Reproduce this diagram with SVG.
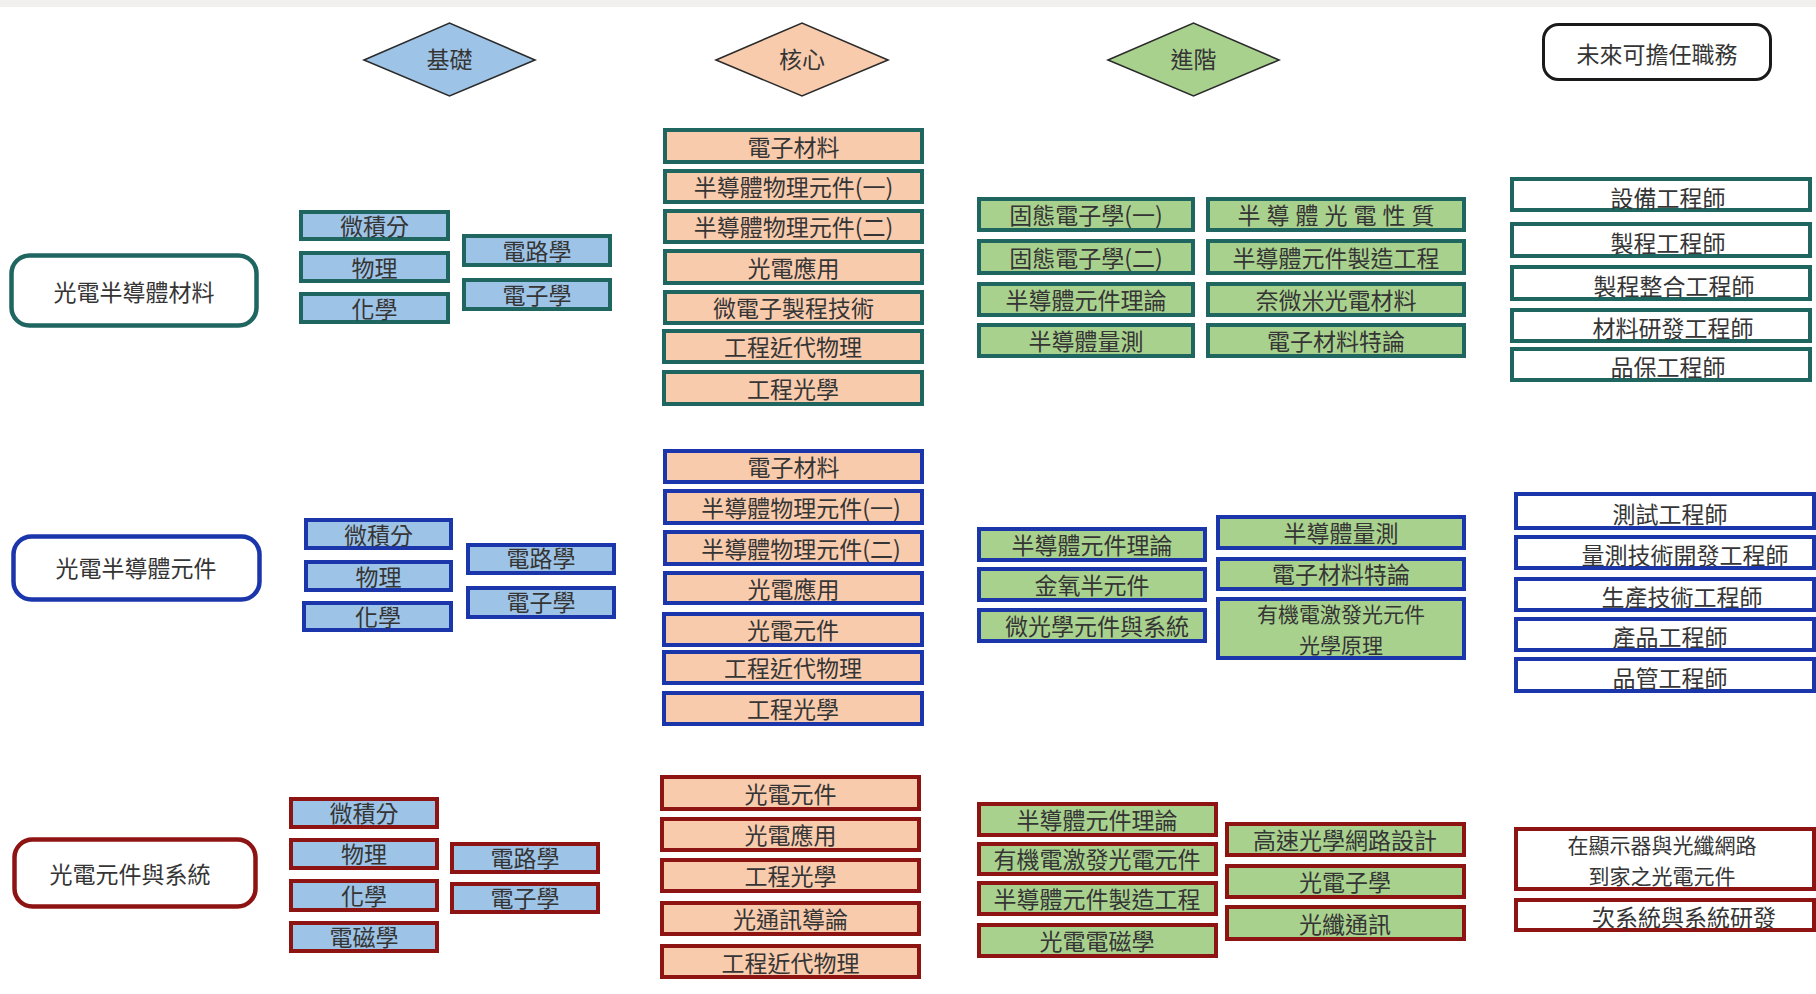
<svg xmlns="http://www.w3.org/2000/svg" width="1816" height="994" viewBox="0 0 1816 994">
<style>
.t{font-family:"Noto Sans CJK TC","Noto Sans CJK SC",sans-serif;font-size:23px;fill:#353535;text-anchor:middle}
.t2{font-size:21px}
.b{stroke-width:4}
.teal{stroke:#1f6560}
.blue{stroke:#1b36ab}
.red{stroke:#8e1414}
.fb{fill:#9dc3e6}
.fp{fill:#f8cbad}
.fg{fill:#a9d18e}
.fw{fill:#ffffff}
.dia{stroke:#2b2b2b;stroke-width:1.6}
.main{stroke-width:4.5;fill:#ffffff}
</style>
<rect x="0" y="0" width="1816" height="994" fill="#ffffff"/>
<rect x="0" y="0" width="1816" height="7" fill="#f2efef"/>

<g id="header">
  <g id="h-basic"><polygon class="dia fb" points="364,60 449.5,23 535,60 449.5,96"/><text class="t" x="449.5" y="68">基礎</text></g>
  <g id="h-core"><polygon class="dia fp" points="716,60 802,23 888,60 802,96"/><text class="t" x="802" y="68">核心</text></g>
  <g id="h-adv"><polygon class="dia fg" points="1108,60 1193.5,23 1279,60 1193.5,96"/><text class="t" x="1193.5" y="68">進階</text></g>
  <g id="h-jobs"><rect x="1543.5" y="24.5" width="227" height="55" rx="15" fill="#fff" stroke="#1a1a1a" stroke-width="3"/><text class="t" x="1657" y="63">未來可擔任職務</text></g>
</g>

<!-- Section 1: teal -->
<g id="s1-main"><rect class="main teal" x="11.5" y="255.5" width="245" height="70" rx="18"/><text class="t" x="134" y="301">光電半導體材料</text></g>
<g id="s1-basic">
  <g id="s1-b1"><rect class="b teal fb" x="301" y="212" width="147" height="27"/><text class="t" x="374.5" y="235">微積分</text></g>
  <g id="s1-b2"><rect class="b teal fb" x="301" y="253" width="147" height="28"/><text class="t" x="374.5" y="277">物理</text></g>
  <g id="s1-b3"><rect class="b teal fb" x="301" y="294" width="147" height="28"/><text class="t" x="374.5" y="318">化學</text></g>
  <g id="s1-b4"><rect class="b teal fb" x="464" y="236" width="146" height="29"/><text class="t" x="537" y="260">電路學</text></g>
  <g id="s1-b5"><rect class="b teal fb" x="464" y="280" width="146" height="29"/><text class="t" x="537" y="304">電子學</text></g>
</g>
<g id="s1-core">
  <g id="s1-c1"><rect class="b teal fp" x="665" y="130" width="257" height="32"/><text class="t" x="793.5" y="156">電子材料</text></g>
  <g id="s1-c2"><rect class="b teal fp" x="665" y="171" width="257" height="31"/><text class="t" x="793.5" y="196">半導體物理元件(一)</text></g>
  <g id="s1-c3"><rect class="b teal fp" x="665" y="211" width="257" height="31"/><text class="t" x="793.5" y="236">半導體物理元件(二)</text></g>
  <g id="s1-c4"><rect class="b teal fp" x="665" y="251" width="257" height="32"/><text class="t" x="793.5" y="277">光電應用</text></g>
  <g id="s1-c5"><rect class="b teal fp" x="665" y="292" width="257" height="31"/><text class="t" x="793.5" y="317">微電子製程技術</text></g>
  <g id="s1-c6"><rect class="b teal fp" x="664" y="331" width="258" height="31"/><text class="t" x="793" y="356">工程近代物理</text></g>
  <g id="s1-c7"><rect class="b teal fp" x="664" y="372" width="258" height="32"/><text class="t" x="793" y="398">工程光學</text></g>
</g>
<g id="s1-adv">
  <g id="s1-a1"><rect class="b teal fg" x="979" y="199" width="214" height="31"/><text class="t" x="1086" y="224">固態電子學(一)</text></g>
  <g id="s1-a2"><rect class="b teal fg" x="979" y="241" width="214" height="32"/><text class="t" x="1086" y="267">固態電子學(二)</text></g>
  <g id="s1-a3"><rect class="b teal fg" x="979" y="284" width="214" height="31"/><text class="t" x="1086" y="309">半導體元件理論</text></g>
  <g id="s1-a4"><rect class="b teal fg" x="979" y="325" width="214" height="31"/><text class="t" x="1086" y="350">半導體量測</text></g>
  <g id="s1-a5"><rect class="b teal fg" x="1208" y="199" width="256" height="31"/><text class="t" x="1339" y="224" letter-spacing="6">半導體光電性質</text></g>
  <g id="s1-a6"><rect class="b teal fg" x="1208" y="241" width="256" height="32"/><text class="t" x="1336" y="267">半導體元件製造工程</text></g>
  <g id="s1-a7"><rect class="b teal fg" x="1208" y="284" width="256" height="31"/><text class="t" x="1336" y="309">奈微米光電材料</text></g>
  <g id="s1-a8"><rect class="b teal fg" x="1208" y="325" width="256" height="31"/><text class="t" x="1336" y="350">電子材料特論</text></g>
</g>
<g id="s1-jobs">
  <g id="s1-j1"><rect class="b teal fw" x="1512" y="179" width="298" height="31"/><text class="t" x="1668" y="207">設備工程師</text></g>
  <g id="s1-j2"><rect class="b teal fw" x="1512" y="224" width="298" height="32"/><text class="t" x="1668" y="252">製程工程師</text></g>
  <g id="s1-j3"><rect class="b teal fw" x="1512" y="267" width="298" height="32"/><text class="t" x="1674" y="295">製程整合工程師</text></g>
  <g id="s1-j4"><rect class="b teal fw" x="1512" y="310" width="298" height="31"/><text class="t" x="1673" y="337">材料研發工程師</text></g>
  <g id="s1-j5"><rect class="b teal fw" x="1512" y="349" width="298" height="31"/><text class="t" x="1668" y="376">品保工程師</text></g>
</g>

<!-- Section 2: blue -->
<g id="s2-main"><rect class="main blue" x="13.5" y="536.5" width="246" height="63" rx="18"/><text class="t" x="136" y="577">光電半導體元件</text></g>
<g id="s2-basic">
  <g id="s2-b1"><rect class="b blue fb" x="306" y="520" width="145" height="28"/><text class="t" x="378.5" y="544">微積分</text></g>
  <g id="s2-b2"><rect class="b blue fb" x="306" y="562" width="145" height="28"/><text class="t" x="378.5" y="586">物理</text></g>
  <g id="s2-b3"><rect class="b blue fb" x="304" y="603" width="147" height="27"/><text class="t" x="378" y="626">化學</text></g>
  <g id="s2-b4"><rect class="b blue fb" x="468" y="545" width="146" height="28"/><text class="t" x="541" y="567">電路學</text></g>
  <g id="s2-b5"><rect class="b blue fb" x="468" y="588" width="146" height="29"/><text class="t" x="541" y="611">電子學</text></g>
</g>
<g id="s2-core">
  <g id="s2-c1"><rect class="b blue fp" x="665" y="451" width="257" height="31"/><text class="t" x="793.5" y="476">電子材料</text></g>
  <g id="s2-c2"><rect class="b blue fp" x="665" y="491" width="257" height="32"/><text class="t" x="801" y="517">半導體物理元件(一)</text></g>
  <g id="s2-c3"><rect class="b blue fp" x="665" y="532" width="257" height="32"/><text class="t" x="801" y="558">半導體物理元件(二)</text></g>
  <g id="s2-c4"><rect class="b blue fp" x="665" y="573" width="257" height="30"/><text class="t" x="793.5" y="598">光電應用</text></g>
  <g id="s2-c5"><rect class="b blue fp" x="664" y="614" width="258" height="31"/><text class="t" x="793" y="639">光電元件</text></g>
  <g id="s2-c6"><rect class="b blue fp" x="664" y="652" width="258" height="31"/><text class="t" x="793" y="677">工程近代物理</text></g>
  <g id="s2-c7"><rect class="b blue fp" x="664" y="693" width="258" height="31"/><text class="t" x="793" y="718">工程光學</text></g>
</g>
<g id="s2-adv">
  <g id="s2-a1"><rect class="b blue fg" x="979" y="529" width="226" height="31"/><text class="t" x="1092" y="554">半導體元件理論</text></g>
  <g id="s2-a2"><rect class="b blue fg" x="979" y="569" width="226" height="31"/><text class="t" x="1092" y="594">金氧半元件</text></g>
  <g id="s2-a3"><rect class="b blue fg" x="979" y="610" width="226" height="31"/><text class="t" x="1097" y="635">微光學元件與系統</text></g>
  <g id="s2-a4"><rect class="b blue fg" x="1218" y="517" width="246" height="31"/><text class="t" x="1341" y="542">半導體量測</text></g>
  <g id="s2-a5"><rect class="b blue fg" x="1218" y="559" width="246" height="30"/><text class="t" x="1341" y="583">電子材料特論</text></g>
  <g id="s2-a6"><rect class="b blue fg" x="1218" y="599" width="246" height="59"/><text class="t t2" x="1341" y="622">有機電激發光元件<tspan x="1341" dy="31">光學原理</tspan></text></g>
</g>
<g id="s2-jobs">
  <g id="s2-j1"><rect class="b blue fw" x="1516" y="494" width="298" height="34"/><text class="t" x="1670" y="523">測試工程師</text></g>
  <g id="s2-j2"><rect class="b blue fw" x="1516" y="537" width="298" height="31"/><text class="t" x="1685" y="564">量測技術開發工程師</text></g>
  <g id="s2-j3"><rect class="b blue fw" x="1516" y="579" width="298" height="31"/><text class="t" x="1682" y="606">生產技術工程師</text></g>
  <g id="s2-j4"><rect class="b blue fw" x="1516" y="619" width="298" height="31"/><text class="t" x="1670" y="646">產品工程師</text></g>
  <g id="s2-j5"><rect class="b blue fw" x="1516" y="659" width="298" height="32"/><text class="t" x="1670" y="687">品管工程師</text></g>
</g>

<!-- Section 3: red -->
<g id="s3-main"><rect class="main red" x="14.5" y="839.5" width="241" height="67" rx="18"/><text class="t" x="130" y="883">光電元件與系統</text></g>
<g id="s3-basic">
  <g id="s3-b1"><rect class="b red fb" x="291" y="799" width="146" height="28"/><text class="t" x="364" y="822">微積分</text></g>
  <g id="s3-b2"><rect class="b red fb" x="291" y="840" width="146" height="28"/><text class="t" x="364" y="863">物理</text></g>
  <g id="s3-b3"><rect class="b red fb" x="291" y="881" width="146" height="29"/><text class="t" x="364" y="905">化學</text></g>
  <g id="s3-b4"><rect class="b red fb" x="291" y="923" width="146" height="28"/><text class="t" x="364" y="946">電磁學</text></g>
  <g id="s3-b5"><rect class="b red fb" x="452" y="844" width="146" height="28"/><text class="t" x="525" y="867">電路學</text></g>
  <g id="s3-b6"><rect class="b red fb" x="452" y="884" width="146" height="28"/><text class="t" x="525" y="907">電子學</text></g>
</g>
<g id="s3-core">
  <g id="s3-c1"><rect class="b red fp" x="662" y="777" width="257" height="32"/><text class="t" x="790.5" y="803">光電元件</text></g>
  <g id="s3-c2"><rect class="b red fp" x="662" y="819" width="257" height="31"/><text class="t" x="790.5" y="844">光電應用</text></g>
  <g id="s3-c3"><rect class="b red fp" x="662" y="860" width="257" height="31"/><text class="t" x="790.5" y="885">工程光學</text></g>
  <g id="s3-c4"><rect class="b red fp" x="662" y="903" width="257" height="31"/><text class="t" x="790.5" y="928">光通訊導論</text></g>
  <g id="s3-c5"><rect class="b red fp" x="662" y="946" width="257" height="31"/><text class="t" x="790.5" y="972">工程近代物理</text></g>
</g>
<g id="s3-adv">
  <g id="s3-a1"><rect class="b red fg" x="979" y="804" width="237" height="31"/><text class="t" x="1097" y="829">半導體元件理論</text></g>
  <g id="s3-a2"><rect class="b red fg" x="979" y="844" width="237" height="30"/><text class="t" x="1097" y="868">有機電激發光電元件</text></g>
  <g id="s3-a3"><rect class="b red fg" x="979" y="883" width="237" height="31"/><text class="t" x="1097" y="908">半導體元件製造工程</text></g>
  <g id="s3-a4"><rect class="b red fg" x="979" y="925" width="237" height="31"/><text class="t" x="1097" y="950">光電電磁學</text></g>
  <g id="s3-a5"><rect class="b red fg" x="1227" y="824" width="237" height="31"/><text class="t" x="1345" y="849">高速光學網路設計</text></g>
  <g id="s3-a6"><rect class="b red fg" x="1227" y="866" width="237" height="31"/><text class="t" x="1345" y="891">光電子學</text></g>
  <g id="s3-a7"><rect class="b red fg" x="1227" y="907" width="237" height="32"/><text class="t" x="1345" y="933">光纖通訊</text></g>
</g>
<g id="s3-jobs">
  <g id="s3-j1"><rect class="b red fw" x="1516" y="829" width="298" height="60"/><text class="t t2" x="1662" y="853">在顯示器與光纖網路<tspan x="1662" dy="31">到家之光電元件</tspan></text></g>
  <g id="s3-j2"><rect class="b red fw" x="1516" y="900" width="298" height="30"/><text class="t" x="1684" y="926">次系統與系統研發</text></g>
</g>

<g id="connectors"></g>
</svg>
